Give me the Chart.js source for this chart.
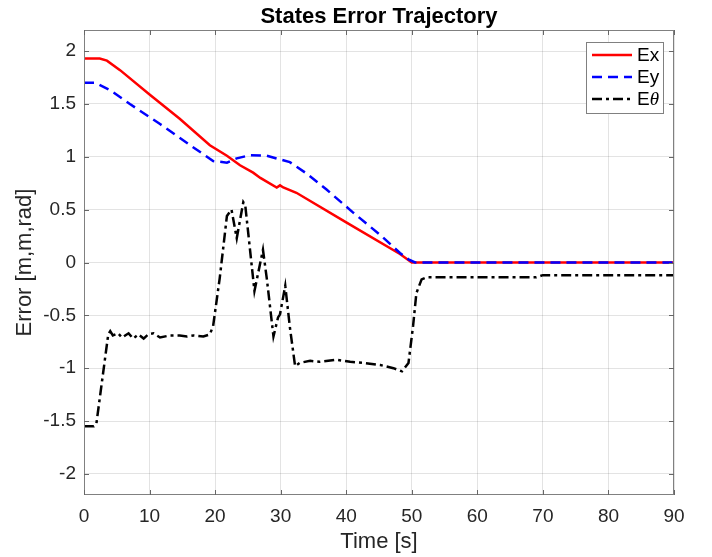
<!DOCTYPE html>
<html lang="en">
<head>
<meta charset="UTF-8">
<title>States Error Trajectory</title>
<script src="https://cdn.jsdelivr.net/npm/chart.js"></script>
<style>
  html, body { margin: 0; padding: 0; background: #fff; }
  #wrap { width: 712px; height: 557px; }
</style>
</head>
<body>
<div id="wrap"><canvas id="myChart" width="712" height="557"></canvas></div>
<script>
  const titleText = 'States Error Trajectory';
  const xTicks = [0, 10, 20, 30, 40, 50, 60, 70, 80, 90];
  const yTicks = [-2, -1.5, -1, -0.5, 0, 0.5, 1, 1.5, 2];

  // Ex (red, solid)
  const exTime = [0, 2.4, 3.5, 5.5, 10, 14.6, 19.2, 21.8, 23.8, 25.8, 26.9, 29.4, 29.9, 30.4, 32.4, 40, 48.2, 50, 90];
  const exValue = [1.93, 1.93, 1.91, 1.82, 1.59, 1.36, 1.11, 1.01, 0.92, 0.85, 0.80, 0.71, 0.73, 0.71, 0.66, 0.38, 0.08, 0, 0];

  // Ey (blue, dashed)
  const eyTime = [0, 1.7, 4, 7, 11.6, 16.2, 19.7, 21.8, 23.3, 25.3, 27.9, 31.4, 34, 37, 41.1, 45.2, 48.2, 49.5, 50.5, 90];
  const eyValue = [1.70, 1.70, 1.63, 1.50, 1.31, 1.11, 0.96, 0.945, 0.985, 1.015, 1.01, 0.95, 0.84, 0.69, 0.47, 0.26, 0.09, 0.03, 0, 0];

  // E theta (black, dash-dot)
  const ethTime = [0, 1.5, 1.9, 3.7, 4.0, 4.4, 5.2, 5.8, 6.8, 7.5, 8.3, 9.1, 9.8, 10.6, 11.6, 13.1, 14.6, 15.7, 16.7, 18.2, 19.2, 19.7, 20.7, 21.8, 22.5, 23.3, 24.3, 24.6, 26.0, 27.3, 27.9, 28.9, 29.6, 29.9, 30.7, 31.4, 32.2, 32.9, 34.5, 35.9, 38.5, 40.6, 42.6, 45.2, 47.2, 48.5, 49.5, 50.2, 50.7, 51.5, 52.3, 69, 70, 90];
  const ethValue = [-1.55, -1.55, -1.52, -0.68, -0.65, -0.69, -0.67, -0.71, -0.67, -0.72, -0.68, -0.72, -0.68, -0.67, -0.71, -0.69, -0.69, -0.70, -0.69, -0.70, -0.68, -0.60, -0.15, 0.44, 0.50, 0.23, 0.57, 0.54, -0.27, 0.12, -0.16, -0.70, -0.52, -0.49, -0.22, -0.61, -0.98, -0.95, -0.93, -0.94, -0.92, -0.94, -0.95, -0.97, -1.0, -1.03, -0.95, -0.60, -0.29, -0.16, -0.14, -0.14, -0.12, -0.12];

  const toPoints = (t, v) => t.map((x, i) => ({ x: x, y: v[i] }));

  const seriesStyle = [
    { label: 'Ex', color: '#ff0000', dash: [] },
    { label: 'Ey', color: '#0000ff', dash: [10, 6] },
    { label: 'E\u03b8', color: '#000000', dash: [10, 4, 3, 4] }
  ];

  const framePlugin = {
    id: 'frame',
    afterDraw(chart) {
      const { ctx, chartArea: a, scales } = chart;
      ctx.save();

      // axes box
      ctx.strokeStyle = '#808080';
      ctx.lineWidth = 1;
      ctx.setLineDash([]);
      ctx.strokeRect(a.left + 0.5, a.top + 0.5, a.right - a.left - 1, a.bottom - a.top - 1);

      // inward ticks on all sides
      ctx.strokeStyle = '#666';
      ctx.beginPath();
      xTicks.forEach(v => {
        const px = Math.round(scales.x.getPixelForValue(v)) + 0.5;
        ctx.moveTo(px, a.bottom); ctx.lineTo(px, a.bottom - 5);
        ctx.moveTo(px, a.top); ctx.lineTo(px, a.top + 5);
      });
      yTicks.forEach(v => {
        const py = Math.round(scales.y.getPixelForValue(v)) + 0.5;
        ctx.moveTo(a.left, py); ctx.lineTo(a.left + 5, py);
        ctx.moveTo(a.right, py); ctx.lineTo(a.right - 5, py);
      });
      ctx.stroke();

      // title
      ctx.fillStyle = '#000';
      ctx.font = 'bold 22px "Liberation Sans", Arial, sans-serif';
      ctx.textAlign = 'center';
      ctx.textBaseline = 'middle';
      ctx.fillText(titleText, (a.left + a.right) / 2, 17);

      // legend
      const bx = a.right - 88, by = a.top + 12, bw = 77, bh = 71;
      ctx.fillStyle = '#fff';
      ctx.fillRect(bx, by, bw, bh);
      ctx.strokeStyle = '#808080';
      ctx.strokeRect(bx + 0.5, by + 0.5, bw, bh);
      seriesStyle.forEach((s, i) => {
        const y = by + 13 + i * 22;
        ctx.strokeStyle = s.color;
        ctx.lineWidth = 2.5;
        ctx.setLineDash(s.dash);
        ctx.beginPath();
        ctx.moveTo(bx + 6, y); ctx.lineTo(bx + 46, y);
        ctx.stroke();
        ctx.setLineDash([]);
        ctx.fillStyle = '#000';
        ctx.textAlign = 'left';
        ctx.font = '19px "Liberation Sans", Arial, sans-serif';
        if (i < 2) {
          ctx.fillText(s.label, bx + 51, y + 1);
        } else {
          ctx.fillText('E', bx + 51, y + 1);
          const w = ctx.measureText('E').width;
          ctx.font = 'italic 19px "Liberation Serif", serif';
          ctx.fillText('\u03b8', bx + 51 + w, y + 1);
        }
      });
      ctx.restore();
    }
  };

  const ctx = document.getElementById('myChart').getContext('2d');
  const gridColor = 'rgba(38,38,38,0.13)';
  const tickFont = { family: '"Liberation Sans", Arial, sans-serif', size: 19 };

  new Chart(ctx, {
    type: 'line',
    data: {
      datasets: [
        {
          label: seriesStyle[0].label,
          data: toPoints(exTime, exValue),
          borderColor: seriesStyle[0].color,
          borderDash: seriesStyle[0].dash,
          borderWidth: 2.5,
          order: 2
        },
        {
          label: seriesStyle[1].label,
          data: toPoints(eyTime, eyValue),
          borderColor: seriesStyle[1].color,
          borderDash: seriesStyle[1].dash,
          borderWidth: 2.5,
          order: 1
        },
        {
          label: seriesStyle[2].label,
          data: toPoints(ethTime, ethValue),
          borderColor: seriesStyle[2].color,
          borderDash: seriesStyle[2].dash,
          borderWidth: 2.5,
          order: 3
        }
      ]
    },
    options: {
      responsive: false,
      animation: false,
      events: [],
      elements: { point: { radius: 0 }, line: { tension: 0, fill: false } },
      layout: { padding: { left: 0, right: 38, top: 30, bottom: 0 } },
      plugins: {
        legend: { display: false },
        title: { display: false },
        tooltip: { enabled: false }
      },
      scales: {
        x: {
          type: 'linear',
          min: 0,
          max: 90,
          afterBuildTicks: s => { s.ticks = xTicks.map(v => ({ value: v })); },
          afterFit: s => { s.height = 62; },
          grid: { color: gridColor, drawTicks: false },
          border: { display: false },
          ticks: { color: '#262626', font: tickFont, padding: 10, maxRotation: 0 },
          title: {
            display: true,
            text: 'Time [s]',
            color: '#262626',
            font: { family: '"Liberation Sans", Arial, sans-serif', size: 22 },
            padding: { top: 0, bottom: 2 }
          }
        },
        y: {
          type: 'linear',
          min: -2.2,
          max: 2.2,
          afterBuildTicks: s => { s.ticks = yTicks.map(v => ({ value: v })); },
          afterFit: s => { s.width = 84; },
          grid: { color: gridColor, drawTicks: false },
          border: { display: false },
          ticks: { color: '#262626', font: tickFont, padding: 8, callback: v => String(v) },
          title: {
            display: true,
            text: 'Error [m,m,rad]',
            color: '#262626',
            font: { family: '"Liberation Sans", Arial, sans-serif', size: 22 },
            padding: { top: 12, bottom: 0 }
          }
        }
      }
    },
    plugins: [framePlugin]
  });
</script>
</body>
</html>
